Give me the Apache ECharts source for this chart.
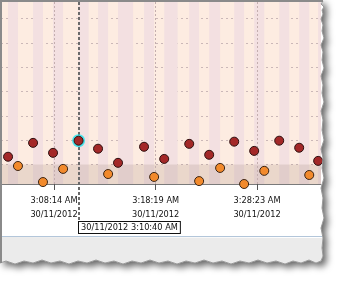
<!DOCTYPE html>
<html><head><meta charset="utf-8">
<script src="https://cdn.jsdelivr.net/npm/echarts@6/dist/echarts.min.js"></script>
<style>html,body{margin:0;padding:0;background:#fff;overflow:hidden}#c{width:340px;height:284px}</style>
</head><body><div id="c"></div>
<script>
// ---- data ----
const chartDate = '30/11/2012';
const tickTimes = ['3:08:14', '3:18:19', '3:28:23'];
const darkTimes = ['3:02:52','3:03:40','3:06:09','3:08:08','3:10:40','3:12:36','3:14:35','3:17:10','3:19:10','3:21:39','3:23:38','3:26:07','3:28:06','3:30:35','3:32:34','3:34:27'];
const darkValues = [14.1,23.2,28.9,24.8,29.8,26.5,20.7,27.3,22.3,28.5,24.0,29.4,25.6,29.8,26.9,21.5];
const orangeTimes = ['3:04:39','3:07:08','3:09:08','3:13:36','3:18:10','3:22:38','3:24:43','3:27:06','3:29:06','3:33:34'];
const orangeValues = [19.4,12.8,18.2,16.1,14.9,13.2,18.6,12.0,17.4,15.7];
const highlightTime = '3:10:40';
const stripeStarts = ['3:03:40','3:06:09','3:08:08','3:10:40','3:12:36','3:14:35','3:17:10','3:19:10','3:21:39','3:23:38','3:26:07','3:28:06','3:30:35','3:32:34','3:34:27'];
const stripeEnds   = ['3:04:39','3:07:08','3:09:08','3:11:40','3:13:36','3:16:05','3:18:10','3:20:30','3:22:38','3:24:43','3:27:06','3:29:06','3:31:35','3:33:34','3:35:27'];
const xRange = ['3:02:58', '3:34:44'];
const yRange = [12, 87.2];
const bandRange = [12, 20];

// ---- helpers ----
function toSec(s){const p=s.split(':').map(Number);return p[0]*3600+p[1]*60+p[2];}
function fmtTime(sec){const h=Math.floor(sec/3600),m=Math.floor(sec%3600/60),s=Math.round(sec%60);
  return h+':'+String(m).padStart(2,'0')+':'+String(s).padStart(2,'0')+' AM';}
const FONT = '"Liberation Sans Narrow","DejaVu Sans Condensed","Liberation Sans",sans-serif';
// fit the label font so "3:08:14 AM" is about as wide as in the reference
const mctx = document.createElement('canvas').getContext('2d');
mctx.font = '10px ' + FONT;
const w10 = mctx.measureText('3:08:14 AM').width;
const FS = Math.max(8, Math.min(10.5, 10 * 47 / w10));

const xMin = toSec(xRange[0]), xMax = toSec(xRange[1]);
const ticks = tickTimes.map(toSec);
const hlIdx = darkTimes.indexOf(highlightTime);

const chart = echarts.init(document.getElementById('c'), null, {renderer:'canvas'});

const stripeAreas = stripeStarts.map((s,i)=>[
  {xAxis: toSec(s)}, {xAxis: Math.min(toSec(stripeEnds[i]), xMax)}
]);
const markAreaData = stripeAreas.concat([[
  {yAxis: bandRange[0], itemStyle:{color:'rgba(110,80,60,0.13)'}},
  {yAxis: bandRange[1]}
]]);

chart.setOption({
  animation:false,
  backgroundColor:'transparent',
  grid:{left:1, top:1, width:320, height:183, show:true, backgroundColor:'#fdece1', borderWidth:0, containLabel:false},
  xAxis:{type:'value', min:xMin, max:xMax,
    axisLine:{show:true, onZero:false, lineStyle:{color:'#7a7a7a', width:1}},
    axisTick:{show:true, customValues:ticks, length:6, lineStyle:{color:'#555'}},
    axisLabel:{customValues:ticks, margin:10, lineHeight:13.5, fontSize:FS, color:'#111', fontFamily:FONT,
      formatter:v=>fmtTime(v)+'\n'+chartDate},
    splitLine:{show:false}},
  yAxis:{type:'value', min:yRange[0], max:yRange[1], splitNumber:7,
    axisLine:{show:false}, axisTick:{show:false}, axisLabel:{show:false},
    splitLine:{show:true, lineStyle:{color:'#cbb8b8', type:[2,3], width:1}}},
  series:[
    {type:'scatter', name:'bg', data:[], z:1, silent:true,
     markArea:{silent:true, z:0, itemStyle:{color:'#f3e0e1'}, data:markAreaData},
     markLine:{silent:true, z:1, symbol:['none','none'], label:{show:false},
       lineStyle:{color:'#c4aeae', type:[2,2], width:1},
       data: ticks.map(t=>({xAxis:t}))}},
    {type:'scatter', name:'highlight', z:3, symbolSize:13,
     itemStyle:{color:'#1fe3ef', borderWidth:0},
     data:[[toSec(highlightTime), darkValues[hlIdx]]]},
    {type:'scatter', name:'orange', z:3, symbolSize:9,
     itemStyle:{color:'#f28a2c', borderColor:'#3a2414', borderWidth:1, opacity:1},
     data: orangeTimes.map((t,i)=>[toSec(t), orangeValues[i]])},
    {type:'scatter', name:'dark', z:4, symbolSize:9,
     itemStyle:{color:'#a32828', borderColor:'#2e1010', borderWidth:1, opacity:1},
     data: darkTimes.map((t,i)=>[toSec(t), darkValues[i]])}
  ]
});

// ---- decoration (screenshot frame) + crosshair from scale ----
const rightEdge=[[323,1],[321,4],[324,7],[322,10],[323,14],[321,19],[323,25],[322,31],[324,38],[321,45],[323,52],[322,60],[324,68],[321,76],[323,85],[322,93],[324,102],[321,111],[323,120],[322,130],[324,140],[321,149],[323,158],[322,168],[324,178],[321,188],[323,198],[322,208],[324,218],[321,228],[323,238],[322,248],[323,256],[321,261]];
const bottomEdge=[[316,263],[309,260],[301,263],[293,261],[285,264],[276,261],[267,263],[258,260],[249,263],[240,261],[231,264],[222,261],[213,263],[204,260],[195,263],[186,261],[177,264],[168,261],[159,263],[150,260],[141,263],[132,261],[123,264],[114,261],[105,263],[96,260],[87,263],[78,261],[69,264],[60,261],[51,263],[42,260],[33,263],[24,261],[15,264],[6,261],[0,263]];
const paper=[[0,0],[323,0]].concat(rightEdge, bottomEdge);
const panel=[[1,237]].concat(rightEdge.filter(p=>p[1]>=237), bottomEdge);
const cx = chart.convertToPixel({xAxisIndex:0}, toSec(highlightTime));
const cxr = Math.round(cx);
chart.setOption({graphic:{elements:[
  {type:'polygon', z:-10, silent:true, shape:{points:paper},
   style:{fill:'#fff', shadowBlur:7, shadowColor:'rgba(0,0,0,0.6)', shadowOffsetX:4, shadowOffsetY:4}},
  {type:'polygon', z:50, silent:true, shape:{points:panel}, style:{fill:'#ebebeb'}},
  {type:'line', z:51, silent:true, shape:{x1:1, y1:236.5, x2:322, y2:236.5}, style:{stroke:'#b3c6da', lineWidth:1}},
  {type:'polyline', z:52, silent:true, shape:{points:rightEdge.concat(bottomEdge)}, style:{stroke:'#9a9a9a', lineWidth:1, fill:null}},
  {type:'polyline', z:53, silent:true, shape:{points:[[1,263],[1,1],[323,1]]}, style:{stroke:'#8a8a8a', lineWidth:2, fill:null}},
  {type:'line', z:2, silent:true, shape:{x1:cxr, y1:2, x2:cxr, y2:222}, style:{stroke:'#6a6a6a', lineWidth:2, lineDash:[3,2]}},
  {type:'text', z:61, silent:true, x:cxr, y:222,
   style:{text: chartDate+' '+fmtTime(toSec(highlightTime)), font:FS+'px '+FONT, fill:'#111',
     backgroundColor:'#fff', borderColor:'#111', borderWidth:1, padding:[1,2,1,2], verticalAlign:'top', align:'left'}}
]}});
</script></body></html>
